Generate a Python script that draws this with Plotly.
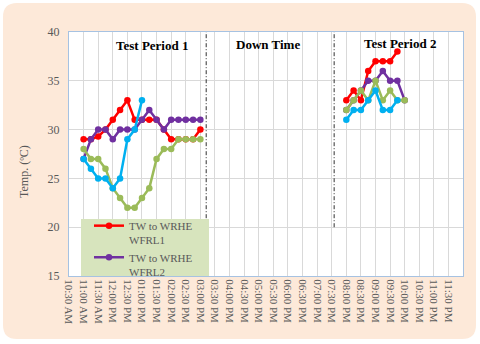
import plotly.graph_objects as go

# time stamps (15 min logging) for the two test periods
day = "2024-01-01 "
times_tp1 = ["11:00", "11:15", "11:30", "11:45", "12:00", "12:15", "12:30", "12:45", "13:00",
             "13:15", "13:30", "13:45", "14:00", "14:15", "14:30", "14:45", "15:00"]
times_tp2 = ["20:00", "20:15", "20:30", "20:45", "21:00", "21:15", "21:30", "21:45", "22:00"]

# temperatures (ºC)
wfrl1_tp1 = [29, 29, 29.3, 30, 31, 32, 33, 31, 31, 31, 31, 30, 29, 29, 29, 29, 30]
wfrl2_tp1 = [27, 29, 30, 30, 29, 30, 30, 30, 31, 32, 31, 30, 31, 31, 31, 31, 31]
wfrl3_tp1 = [28, 27, 27, 26, 24, 23, 22, 22, 23, 24, 27, 28, 28, 29, 29, 29, 29]
wfrl4_tp1 = [27, 26, 25, 25, 24, 25, 29, 30, 33]

wfrl1_tp2 = [33, 34, 33, 36, 37, 37, 37, 38]
wfrl2_tp2 = [32, 33, 34, 35, 35, 36, 35, 35, 33]
wfrl3_tp2 = [32, 33, 34, 33, 35, 33, 34, 33, 33]
wfrl4_tp2 = [31, 32, 32, 33, 34, 32, 32, 33]

# period boundaries (dash-dot lines) and labels
boundary_times = ["15:12", "19:35"]
boundary_span = [20, 40]
period_labels = ["Test Period 1", "Down Time", "Test Period 2"]
period_label_times = ["13:20", "17:19", "21:50"]
period_label_temps = [38.6, 38.7, 38.8]

series = [
    ("TW to WRHE<br>WFRL1", "#ff0000", wfrl1_tp1, wfrl1_tp2, True),
    ("TW to WRHE<br>WFRL2", "#7030a0", wfrl2_tp1, wfrl2_tp2, True),
    ("TW to WRHE<br>WFRL3", "#9bbb59", wfrl3_tp1, wfrl3_tp2, False),
    ("TW to WRHE<br>WFRL4", "#00b0f0", wfrl4_tp1, wfrl4_tp2, False),
]

serif = "Liberation Serif, Times New Roman, serif"
grey = "#595959"
fig = go.Figure()

for t in boundary_times:
    fig.add_trace(go.Scatter(x=[day + t, day + t], y=boundary_span, mode="lines",
                             line=dict(color="#303030", width=1, dash="4px,2px,1px,2px"),
                             showlegend=False, hoverinfo="skip"))

for name, color, tp1, tp2, show in series:
    for i, (times, vals) in enumerate([(times_tp1, tp1), (times_tp2, tp2)]):
        fig.add_trace(go.Scatter(
            x=[day + t for t in times[:len(vals)]], y=vals, mode="lines+markers",
            name=name, legendgroup=name, showlegend=show and i == 0,
            line=dict(color=color, width=2.5),
            marker=dict(color=color, size=6.5, symbol="circle")))

for txt, t, v in zip(period_labels, period_label_times, period_label_temps):
    fig.add_annotation(x=day + t, y=v, text="<b>%s</b>" % txt, showarrow=False,
                       font=dict(family=serif, size=13, color="black"))

# plot-area geometry in px -> paper coords helper
L, R, T, B, W, H = 69, 17, 32, 68, 480, 344
pw, ph = W - L - R, H - T - B
px = lambda v: (v - L) / pw
py = lambda v: (H - B - v) / ph

fig.add_annotation(x=px(24), y=py(172), xref="paper", yref="paper", text="Temp. (ºC)",
                   xanchor="center", yanchor="middle", textangle=-90, showarrow=False,
                   font=dict(family=serif, size=12, color=grey))

# rounded peach frame
x0, x1, y0, y1, r = 3, 476, 3, 339, 14
path = ("M {a},{b} L {c},{b} Q {d},{b} {d},{e} L {d},{f} Q {d},{g} {c},{g} "
        "L {a},{g} Q {h},{g} {h},{f} L {h},{e} Q {h},{b} {a},{b} Z").format(
    a=px(x0 + r), b=py(y0), c=px(x1 - r), d=px(x1), e=py(y0 + r),
    f=py(y1 - r), g=py(y1), h=px(x0))
fig.add_shape(type="path", path=path, xref="paper", yref="paper",
              fillcolor="#fde9d9", line=dict(width=0), layer="below")
fig.add_shape(type="rect", xref="paper", yref="paper", x0=0, x1=1, y0=0, y1=1,
              fillcolor="white", line=dict(width=0), layer="below")
# clipped legend box
fig.add_shape(type="rect", xref="paper", yref="paper", x0=px(81), x1=px(209), y0=0, y1=py(219),
              fillcolor="#d7e4bd", line=dict(width=0), layer="above")

fig.update_layout(
    width=W, height=H, margin=dict(l=L, r=R, t=T, b=B, autoexpand=False),
    paper_bgcolor="white", plot_bgcolor="rgba(0,0,0,0)",
    font=dict(family=serif, size=11, color=grey),
    legend=dict(x=px(89), y=py(212), xanchor="left", yanchor="top",
                bgcolor="rgba(0,0,0,0)", font=dict(family=serif, size=11, color=grey),
                valign="top", tracegroupgap=0, itemwidth=30),
)
fig.update_xaxes(type="date", range=[day + "10:30", day + "23:59:50"],
                 tick0=day + "10:30", dtick=30 * 60 * 1000, tickformat="%I:%M %p",
                 tickangle=90, tickfont=dict(family=serif, size=11, color=grey), automargin=False,
                 showgrid=True, gridcolor="#d9d9d9", gridwidth=1,
                 showline=True, linecolor="#a6c2e2", mirror=True, ticks="", zeroline=False)
fig.update_yaxes(range=[15, 40], dtick=5, automargin=False, ticklabelstandoff=6,
                 tickfont=dict(family=serif, size=12, color=grey),
                 showgrid=True, gridcolor="#d9d9d9", gridwidth=1,
                 showline=True, linecolor="#a6c2e2", mirror=True, ticks="", zeroline=False)

# the page's default body margin would push the figure 8px off the window
fig.write_html("out.html", config={"displayModeBar": False},
               post_script="document.body.style.margin='0';")
